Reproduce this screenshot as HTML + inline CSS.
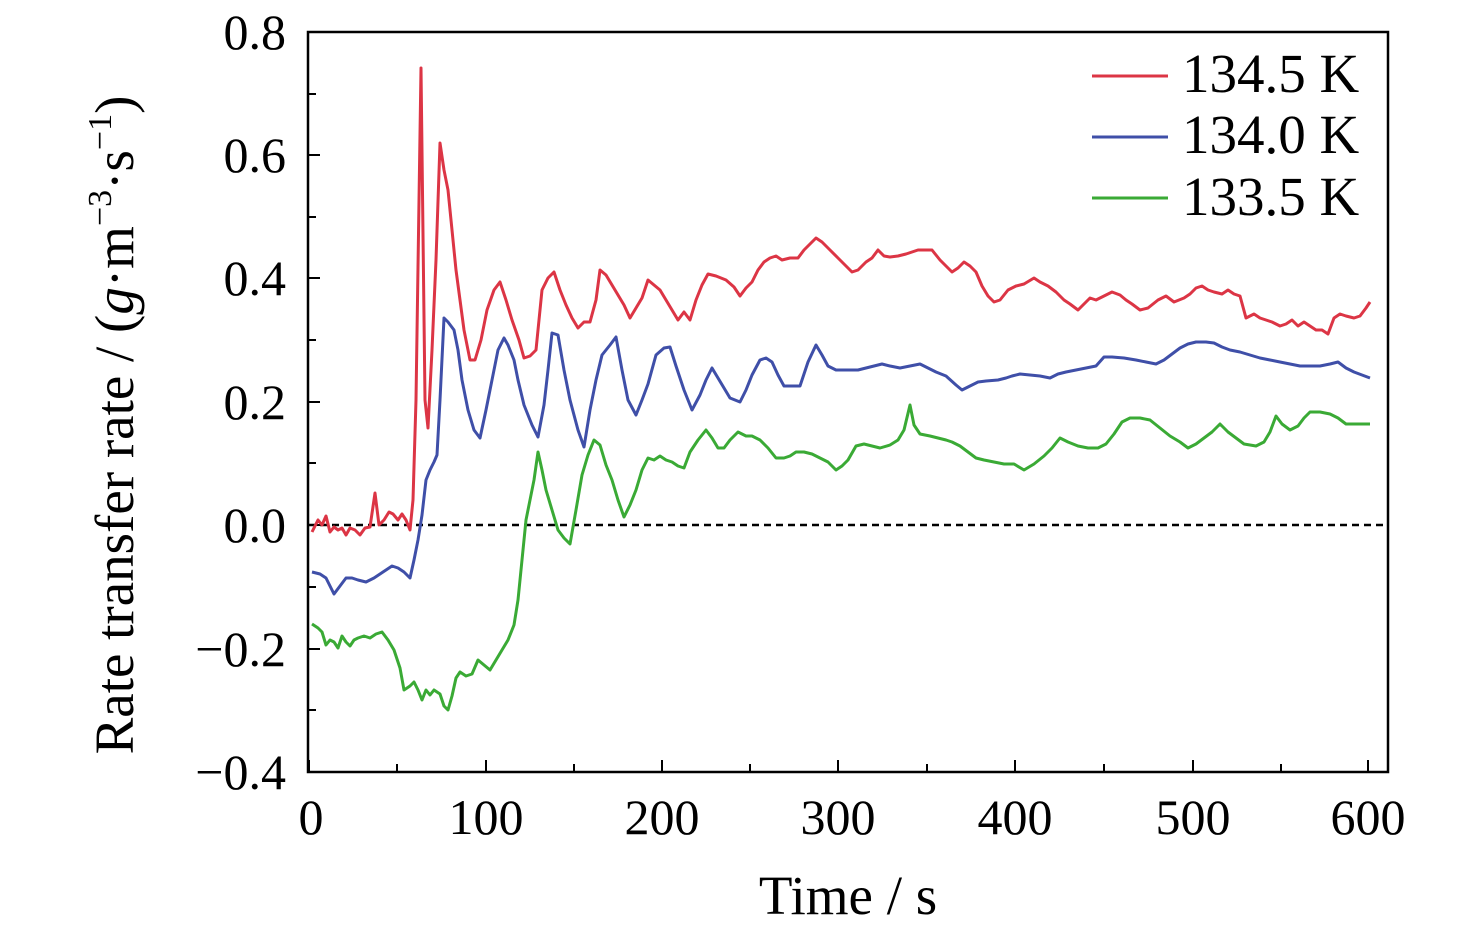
<!DOCTYPE html>
<html><head><meta charset="utf-8"><style>body{margin:0;background:#fff}</style></head>
<body>
<svg width="1476" height="932" viewBox="0 0 1476 932" xmlns="http://www.w3.org/2000/svg" font-family="Liberation Serif, serif">
<rect x="308" y="32" width="1080" height="740" fill="none" stroke="#000" stroke-width="2.5"/>
<g stroke="#000" stroke-width="2">
<line x1="309" y1="772" x2="309" y2="760"/><line x1="397" y1="772" x2="397" y2="764"/>
<line x1="486" y1="772" x2="486" y2="760"/><line x1="574" y1="772" x2="574" y2="764"/>
<line x1="662" y1="772" x2="662" y2="760"/><line x1="750" y1="772" x2="750" y2="764"/>
<line x1="838" y1="772" x2="838" y2="760"/><line x1="927" y1="772" x2="927" y2="764"/>
<line x1="1015" y1="772" x2="1015" y2="760"/><line x1="1104" y1="772" x2="1104" y2="764"/>
<line x1="1193" y1="772" x2="1193" y2="760"/><line x1="1281" y1="772" x2="1281" y2="764"/>
<line x1="1368" y1="772" x2="1368" y2="760"/>
<line x1="308" y1="32" x2="320" y2="32"/><line x1="308" y1="94" x2="316" y2="94"/>
<line x1="308" y1="155" x2="320" y2="155"/><line x1="308" y1="217" x2="316" y2="217"/>
<line x1="308" y1="278" x2="320" y2="278"/><line x1="308" y1="340" x2="316" y2="340"/>
<line x1="308" y1="402" x2="320" y2="402"/><line x1="308" y1="463" x2="316" y2="463"/>
<line x1="308" y1="525" x2="320" y2="525"/><line x1="308" y1="587" x2="316" y2="587"/>
<line x1="308" y1="649" x2="320" y2="649"/><line x1="308" y1="710" x2="316" y2="710"/>
</g>
<line x1="308" y1="525" x2="1388" y2="525" stroke="#000" stroke-width="2.5" stroke-dasharray="7,5"/>
<g font-size="50" text-anchor="end">
<text x="286" y="49">0.8</text><text x="286" y="172">0.6</text><text x="286" y="295">0.4</text>
<text x="286" y="419">0.2</text><text x="286" y="542">0.0</text><text x="286" y="666">−0.2</text><text x="286" y="789">−0.4</text>
</g>
<g font-size="50" text-anchor="middle">
<text x="311" y="834">0</text><text x="486" y="834">100</text><text x="662" y="834">200</text><text x="838" y="834">300</text>
<text x="1015" y="834">400</text><text x="1193" y="834">500</text><text x="1368" y="834">600</text>
</g>
<text x="848" y="914" font-size="55" text-anchor="middle">Time / s</text>
<text transform="translate(133,425) rotate(-90)" font-size="55" text-anchor="middle">Rate transfer rate / (<tspan font-style="italic">g</tspan>·m<tspan font-size="34" dy="-22">−3</tspan><tspan dy="22">·s</tspan><tspan font-size="34" dy="-22">−1</tspan><tspan dy="22">)</tspan></text>
<g fill="none" stroke-width="3" stroke-linejoin="round">
<polyline stroke="#dc3545" points="312,532 318,520 322,525 326,516 330,532 334,527 338,530 342,528 346,535 350,528 355,530 360,535 365,528 370,527 375,493 379,525 384,520 389,512 393,514 398,520 402,514 406,520 410,530 413,500 416,400 421,68 425,400 428,428 432,350 436,260 440,143 444,170 448,190 452,230 456,270 460,300 464,330 470,360 475,360 481,340 487,310 494,290 500,282 506,300 512,320 519,340 524,358 530,356 536,350 542,290 548,278 554,272 560,290 566,305 572,318 578,328 584,322 590,322 596,300 600,270 606,275 612,285 618,295 624,305 630,318 636,308 642,298 648,280 654,285 660,290 666,300 672,310 678,320 684,312 690,320 696,300 702,285 708,274 716,276 726,280 734,287 740,296 746,288 752,282 758,270 764,262 770,258 776,256 782,260 790,258 798,258 804,250 810,244 816,238 822,242 830,250 838,258 846,266 852,272 858,270 866,262 872,258 878,250 884,256 890,257 898,256 906,254 912,252 918,250 926,250 932,250 936,255 940,260 946,266 952,272 958,268 964,262 970,266 976,272 982,286 988,296 994,302 1000,300 1008,290 1016,286 1024,284 1034,278 1040,282 1048,286 1056,292 1064,300 1070,304 1078,310 1084,304 1090,298 1096,300 1104,296 1112,292 1120,295 1126,300 1132,304 1140,310 1148,308 1158,300 1166,296 1174,302 1184,298 1190,294 1196,288 1202,286 1208,290 1214,292 1222,294 1228,290 1234,294 1240,296 1246,318 1254,314 1260,318 1266,320 1272,322 1280,326 1286,324 1292,320 1298,326 1304,322 1310,326 1316,330 1322,330 1328,334 1334,318 1340,314 1346,316 1354,318 1360,316 1366,308 1370,302"/>
<polyline stroke="#3f4fa8" points="312,572 320,574 326,578 334,594 340,586 346,578 352,578 358,580 366,582 374,578 380,574 386,570 392,566 398,568 404,572 410,578 414,560 418,540 422,515 426,480 430,470 434,462 437,455 440,400 444,318 448,322 454,330 458,350 462,380 468,410 474,430 480,438 486,410 492,380 498,350 504,338 508,345 514,360 518,380 524,405 532,425 538,437 544,405 548,370 552,333 558,335 564,370 570,400 578,430 584,447 590,410 596,380 602,355 610,345 616,337 622,370 628,400 636,415 642,400 648,384 656,355 664,348 670,347 676,366 684,390 692,410 700,395 706,380 712,368 718,378 724,388 730,398 740,402 746,390 752,375 760,360 766,358 772,362 778,375 784,386 792,386 800,386 808,362 816,345 822,355 828,366 836,370 846,370 858,370 870,367 882,364 890,366 900,368 910,366 920,364 928,368 936,372 946,376 956,385 962,390 970,386 978,382 986,381 998,380 1006,378 1012,376 1020,374 1030,375 1040,376 1050,378 1058,374 1066,372 1076,370 1086,368 1096,366 1104,357 1112,357 1124,358 1136,360 1146,362 1156,364 1164,360 1172,354 1180,348 1188,344 1196,342 1206,342 1214,343 1222,347 1230,350 1240,352 1250,355 1260,358 1270,360 1280,362 1290,364 1300,366 1310,366 1320,366 1330,364 1338,362 1346,368 1354,372 1362,375 1370,378"/>
<polyline stroke="#3aaa35" points="312,624 318,628 322,632 326,645 330,640 334,642 338,648 342,636 346,642 350,646 354,640 358,638 364,636 370,638 376,634 382,632 388,640 394,650 400,668 404,690 410,686 414,682 418,690 422,700 426,690 430,695 434,690 440,694 444,706 448,710 452,696 456,678 460,672 466,676 472,674 478,660 484,665 490,670 496,660 502,650 508,640 514,625 518,600 522,560 526,520 530,500 534,480 538,452 542,470 546,490 552,510 558,530 564,538 570,544 576,510 582,475 588,455 594,440 600,445 606,465 612,480 618,500 624,517 630,505 636,490 642,470 648,458 654,460 660,456 666,460 672,462 678,466 684,468 690,452 698,440 706,430 712,438 718,448 724,448 730,440 738,432 746,436 752,436 760,440 768,448 776,458 784,458 790,456 796,452 804,452 812,454 820,458 828,462 836,470 842,466 848,460 856,446 864,444 872,446 880,448 890,445 898,440 904,430 910,405 914,425 920,434 930,436 938,438 946,440 952,442 960,446 968,452 976,458 984,460 994,462 1004,464 1014,464 1024,470 1034,464 1044,456 1052,448 1060,438 1068,442 1078,446 1088,448 1098,448 1106,444 1114,434 1122,422 1130,418 1140,418 1150,420 1160,428 1170,436 1180,442 1188,448 1196,444 1204,438 1212,432 1220,424 1228,432 1236,438 1244,444 1256,446 1264,442 1270,432 1276,416 1282,424 1290,430 1298,426 1304,418 1310,412 1320,412 1330,414 1338,418 1346,424 1356,424 1370,424"/>
<line x1="1092" y1="76" x2="1168" y2="76" stroke="#dc3545"/>
<line x1="1092" y1="137" x2="1168" y2="137" stroke="#3f4fa8"/>
<line x1="1092" y1="198" x2="1168" y2="198" stroke="#3aaa35"/>
</g>
<g font-size="55">
<text x="1182" y="92">134.5 K</text><text x="1182" y="153">134.0 K</text><text x="1182" y="215">133.5 K</text>
</g>
</svg>
</body></html>
